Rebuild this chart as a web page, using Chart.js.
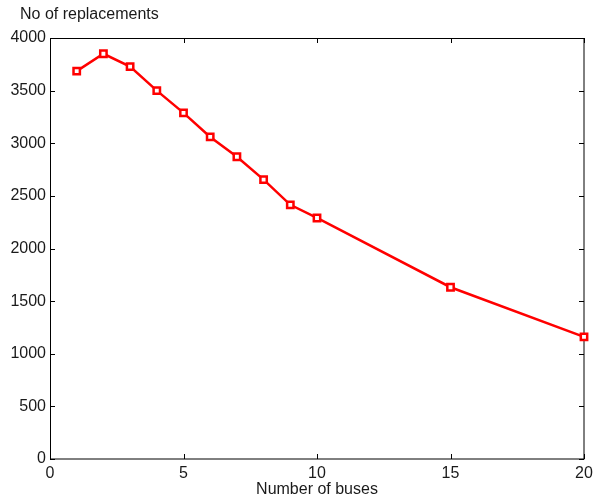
<!DOCTYPE html>
<html>
<head>
<meta charset="utf-8">
<script src="https://cdn.jsdelivr.net/npm/chart.js@4/dist/chart.umd.min.js"></script>
<style>
  html, body { margin: 0; padding: 0; background: #fff; }
  #wrap { width: 608px; height: 501px; position: relative; }
</style>
</head>
<body>
<div id="wrap"><canvas id="c" width="608" height="501"></canvas></div>
<script>
const buses = [1, 2, 3, 4, 5, 6, 7, 8, 9, 10, 15, 20];
const replacements = [3685, 3850, 3728, 3500, 3289, 3060, 2872, 2655, 2415, 2290, 1632, 1160];
const xTicks = [0, 5, 10, 15, 20];
const yTicks = [0, 500, 1000, 1500, 2000, 2500, 3000, 3500, 4000];
const xLabel = 'Number of buses';
const yLabel = 'No of replacements';

const FONT = 'Liberation Sans, Arial, Helvetica, sans-serif';

const boxTicks = {
  id: 'boxTicks',
  beforeDatasetsDraw(chart) {
    const { ctx, chartArea: a, scales } = chart;
    ctx.save();
    ctx.strokeStyle = '#000';
    ctx.lineWidth = 1;
    ctx.strokeRect(a.left + 0.5, a.top + 0.5, a.right - a.left - 0.5, a.bottom - a.top - 0.5);
    const L = 5;
    ctx.beginPath();
    xTicks.forEach(v => {
      const px = Math.round(scales.x.getPixelForValue(v)) + 0.5;
      ctx.moveTo(px, a.bottom); ctx.lineTo(px, a.bottom - L);
      ctx.moveTo(px, a.top); ctx.lineTo(px, a.top + L);
    });
    yTicks.forEach(v => {
      const py = Math.round(scales.y.getPixelForValue(v)) + 0.5;
      ctx.moveTo(a.left, py); ctx.lineTo(a.left + L, py);
      ctx.moveTo(a.right, py); ctx.lineTo(a.right - L, py);
    });
    ctx.stroke();
    ctx.fillStyle = '#1a1a1a';
    ctx.font = '16px ' + FONT;
    ctx.textAlign = 'left';
    ctx.textBaseline = 'alphabetic';
    ctx.fillText(yLabel, 20, 19);
    ctx.restore();
  }
};

new Chart(document.getElementById('c'), {
  type: 'line',
  data: {
    datasets: [{
      data: buses.map((b, i) => ({ x: b, y: replacements[i] })),
      borderColor: '#ff0000',
      borderWidth: 2.5,
      pointStyle: 'rect',
      pointRadius: 4.5,
      pointBorderWidth: 2.5,
      pointBackgroundColor: '#ffffff',
      pointBorderColor: '#ff0000',
      tension: 0,
      fill: false,
      clip: false
    }]
  },
  options: {
    responsive: false,
    animation: false,
    devicePixelRatio: 1,
    layout: { padding: { top: 38, right: 24, left: 0, bottom: 0 } },
    plugins: { legend: { display: false }, tooltip: { enabled: false }, title: { display: false } },
    scales: {
      x: {
        type: 'linear', min: 0, max: 20,
        afterBuildTicks: s => { s.ticks = xTicks.map(v => ({ value: v })); },
        afterFit: s => { s.height = 42; },
        grid: { display: false, drawTicks: false },
        border: { display: false },
        ticks: { padding: 5, color: '#1a1a1a', font: { family: FONT, size: 16 }, maxRotation: 0, autoSkip: false, callback: v => String(v) },
        title: { display: true, text: xLabel, color: '#1a1a1a', font: { family: FONT, size: 16 }, padding: { top: 0, bottom: 2 } }
      },
      y: {
        type: 'linear', min: 0, max: 4000,
        afterBuildTicks: s => { s.ticks = yTicks.map(v => ({ value: v })); },
        afterFit: s => { s.width = 50; },
        grid: { display: false, drawTicks: false },
        border: { display: false },
        ticks: { padding: 4, color: '#1a1a1a', font: { family: FONT, size: 16 }, autoSkip: false, callback: v => String(v) }
      }
    }
  },
  plugins: [boxTicks]
});
</script>
</body>
</html>
